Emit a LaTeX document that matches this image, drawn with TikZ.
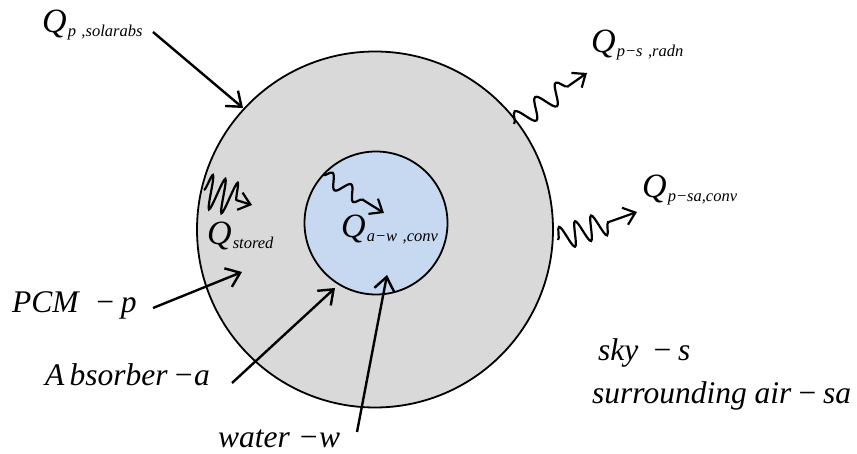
\documentclass[tikz,border=0pt]{standalone}
\usepackage{fontspec}
\setmainfont{Liberation Serif}
\usetikzlibrary{arrows.meta,decorations.pathmorphing}
\definecolor{pcmgray}{RGB}{217,217,217}
\definecolor{absblue}{RGB}{198,217,241}
\newcommand\myQ{{\fontsize{34}{34}\selectfont\itshape Q}}
\newcommand\myQsub[1]{\myQ\kern1pt\raisebox{-4pt}{\fontsize{16.5}{16.5}\selectfont\itshape #1}}
\newcommand\biglab{\fontsize{31.5}{34}\selectfont\itshape}
\begin{document}
\begin{tikzpicture}[x=1pt,y=-1pt,
  lab/.style={inner sep=0pt,anchor=base west},
  arr/.style={line width=2.4pt,-{Straight Barb[length=13pt,width=20pt,line width=2.4pt]}},
  wav/.style={line width=2.2pt,-{Straight Barb[length=11pt,width=18pt,line width=2.2pt]},decorate},
  shell/.style={draw=black,line width=1.8pt}]
\useasboundingbox (0,0) rectangle (857,454);
% shells
\node[shell,circle,fill=pcmgray,minimum size=356pt,inner sep=0pt] (pcm) at (375,229.5) {};
\node[shell,circle,fill=absblue,minimum size=143pt,inner sep=0pt] (abs) at (376,223) {};
% labels
\node[lab] (qsolar) at (42,33) {\myQsub{p\,\,,solarabs}};
\node[lab] (qradn) at (591,53) {\myQsub{p−s\,\,,radn}};
\node[lab] (qconv) at (642,198) {\myQsub{p−sa,conv}};
\node[lab] (qstored) at (207,245) {\myQsub{stored}};
\node[lab] (qaw) at (341,238) {\myQsub{a−w\,\,,conv}};
\node[lab] (lpcm) at (12,313) {\biglab PCM\ \ −\,p};
\node[lab] (labs) at (45,385) {\biglab A\,bsorber\,−a};
\node[lab] (lwat) at (218,447) {\biglab water\ −w};
\node[lab] (lsky) at (598,360) {\biglab sky\ \,−\,s};
\node[lab] (lair) at (592,403) {\biglab surrounding air\,−\,sa};
% coordinates
\coordinate (s1) at (153,32);  \coordinate (e1) at (243,108);
\coordinate (s2) at (153,308); \coordinate (e2) at (242,272);
\coordinate (s3) at (232,383); \coordinate (e3) at (335,288);
\coordinate (s4) at (357,432); \coordinate (e4) at (387,275);
\coordinate (w1s) at (514,124); \coordinate (w1e) at (587,73);
\coordinate (w2s) at (558,240); \coordinate (w2e) at (637,212);
\coordinate (w3s) at (204,190); \coordinate (w3e) at (252,205);
\coordinate (w4s) at (323,175); \coordinate (w4e) at (384,213);
% straight arrows
\draw[arr] (s1) -- (e1);
\draw[arr] (s2) -- (e2);
\draw[arr] (s3) -- (e3);
\draw[arr] (s4) -- (e4);
% wavy arrows
\draw[wav,decoration={snake,amplitude=10pt,segment length=25pt,post length=20pt}] (w1s) -- (w1e);
\draw[wav,decoration={snake,amplitude=12pt,segment length=17pt,post length=26pt}] (w2s) -- (w2e);
\draw[wav,decoration={snake,amplitude=17pt,segment length=13pt,post length=12pt}] (w3s) -- (w3e);
\draw[wav,decoration={snake,amplitude=7pt,segment length=22pt,post length=16pt}] (w4s) -- (w4e);
\end{tikzpicture}
\end{document}
